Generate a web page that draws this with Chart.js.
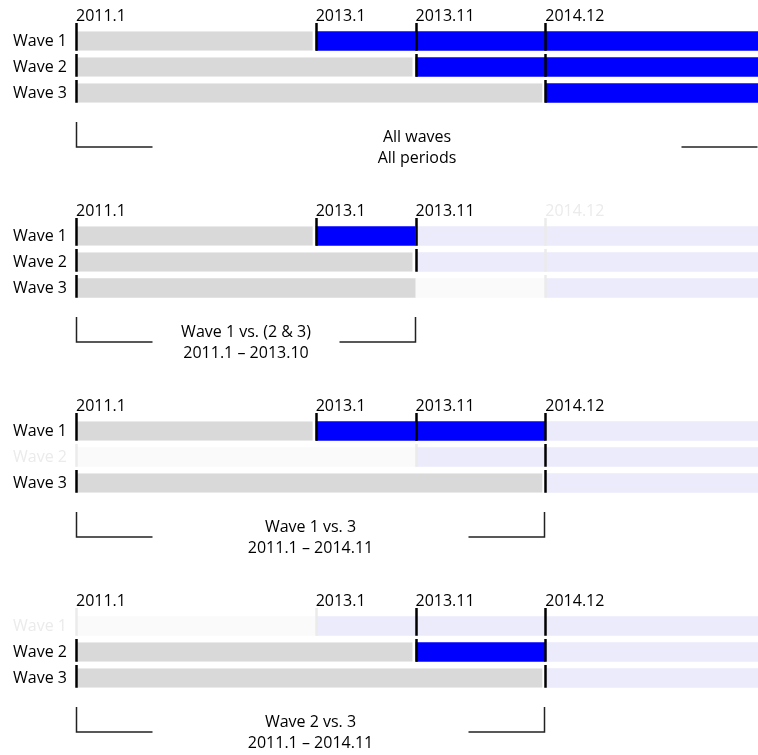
<!DOCTYPE html>
<html>
<head>
<meta charset="utf-8">
<script src="https://cdn.jsdelivr.net/npm/chart.js@4"></script>
<style>
  body { margin: 0; background: #fff; overflow: hidden; }
  .panel { width: 758px; height: 195px; }
</style>
</head>
<body>
<div class="panel"><canvas id="p0" width="758" height="195"></canvas></div>
<div class="panel"><canvas id="p1" width="758" height="195"></canvas></div>
<div class="panel"><canvas id="p2" width="758" height="195"></canvas></div>
<div class="panel"><canvas id="p3" width="758" height="195"></canvas></div>
<script>
// data (months counted from 2011.1)

let waveNames = ['Wave 1', 'Wave 2', 'Wave 3'];
let waveStart = [24, 34, 47];
let axisEnd = 68.3;

let tickMonths = [0, 24, 34, 47];
let tickLabels = ['2011.1', '2013.1', '2013.11', '2014.12'];

let panelCaptions = [
  ['All waves', 'All periods'],
  ['Wave 1 vs. (2 & 3)', '2011.1 \u2013 2013.10'],
  ['Wave 1 vs. 3', '2011.1 \u2013 2014.11'],
  ['Wave 2 vs. 3', '2011.1 \u2013 2014.11']
];
let panelWindowEnd = [axisEnd, 34, 47, 47];
let panelWaves = [
  [true, true, true],
  [true, true, true],
  [true, false, true],
  [false, true, true]
];

// colours

let gray = '#d9d9d9';
let fadedGray = '#fafafa';
let blue = '#0000ff';
let lavender = '#ebebfb';
let fadedInk = '#ebebeb';
let fontFamily = "'Open Sans', sans-serif";

let barPct = 0.75;

// does a marker line cross the row of wave i at month m?
function lineCovers(i, m) {
  return tickMonths.includes(m) && (waveStart[i] <= m || m === 0);
}

// split every wave into coloured pieces for one panel
function buildSegments(p) {
  let w = panelWindowEnd[p];
  let segs = { gray: [], faded: [], blue: [], lav: [] };
  for (let i = 0; i < waveNames.length; i++) {
    let s = waveStart[i];
    let on = panelWaves[p][i];
    let g = null, f = null, b = null, l = null;
    if (!on) {
      f = [0, s];
      l = [s, axisEnd];
    } else if (s > w) {
      g = [0, w];
      f = [w, s];
      l = [s, axisEnd];
    } else {
      g = [0, s];
      b = [s, w];
      if (w < axisEnd) l = [w, axisEnd];
    }
    segs.gray.push(g);
    segs.faded.push(f);
    segs.blue.push(b);
    segs.lav.push(l);
  }
  return segs;
}

// marker lines, brackets and captions
let panelDecor = {
  id: 'panelDecor',
  afterDatasetsDraw(chart) {
    let p = chart.options.plugins.panelDecor.panel;
    let w = panelWindowEnd[p];
    let x = chart.scales.x;
    let y = chart.scales.y;
    let area = chart.chartArea;
    let ctx = chart.ctx;
    let band = y.getPixelForValue(1) - y.getPixelForValue(0);
    let half = band * barPct / 2;

    ctx.save();
    ctx.lineWidth = 2.5;
    for (let t = 0; t < tickMonths.length; t++) {
      let m = tickMonths[t];
      let px = Math.round(x.getPixelForValue(m)) + 0.5;
      let startsActive = false;
      for (let i = 0; i < waveStart.length; i++) {
        if (waveStart[i] === m && panelWaves[p][i]) startsActive = true;
      }
      for (let i = 0; i < waveNames.length; i++) {
        if (!lineCovers(i, m)) continue;
        let c = y.getPixelForValue(i);
        let top = i === 0 ? area.top - 5 : c - band / 2;
        let bottom = c + half;
        let faded = m > w || (!panelWaves[p][i] && !startsActive);
        ctx.strokeStyle = faded ? fadedInk : '#000';
        ctx.beginPath();
        ctx.moveTo(px, top);
        ctx.lineTo(px, bottom);
        ctx.stroke();
      }
    }

    // brackets under the window
    let left = Math.round(x.getPixelForValue(0)) + 0.5;
    let right = Math.round(x.getPixelForValue(w)) - 0.5;
    let bTop = area.bottom + 16;
    let bBottom = area.bottom + 41;
    ctx.strokeStyle = '#222';
    ctx.lineWidth = 1.5;
    ctx.beginPath();
    ctx.moveTo(left, bTop);
    ctx.lineTo(left, bBottom);
    ctx.lineTo(left + 76, bBottom);
    ctx.stroke();
    ctx.beginPath();
    ctx.moveTo(right - 76, bBottom);
    ctx.lineTo(right, bBottom);
    if (right < area.right - 2) ctx.lineTo(right, bTop);
    ctx.stroke();

    // captions
    ctx.fillStyle = '#000';
    ctx.font = '16px ' + fontFamily;
    ctx.textAlign = 'center';
    ctx.textBaseline = 'middle';
    let mid = (left + right) / 2;
    ctx.fillText(panelCaptions[p][0], mid, area.bottom + 31);
    ctx.fillText(panelCaptions[p][1], mid, area.bottom + 52);
    ctx.restore();
  }
};

function makePanel(p) {
  let segs = buildSegments(p);
  let w = panelWindowEnd[p];
  let common = { grouped: false, barPercentage: barPct, categoryPercentage: 1, borderWidth: 0 };

  // small white gap on a gray bar only where a black marker follows it
  let grayGap = function (ctx) {
    let seg = segs.gray[ctx.dataIndex];
    let gap = seg && lineCovers(ctx.dataIndex, seg[1]) ? 3 : 0;
    return { top: 0, left: 0, bottom: 0, right: gap };
  };

  new Chart(document.getElementById('p' + p), {
    type: 'bar',
    data: {
      labels: waveNames,
      datasets: [
        Object.assign({}, common, { label: 'before', data: segs.gray, backgroundColor: gray,
          borderColor: '#fff', borderWidth: grayGap, borderSkipped: false }),
        Object.assign({ label: 'before (outside)', data: segs.faded, backgroundColor: fadedGray }, common),
        Object.assign({ label: 'in panel', data: segs.blue, backgroundColor: blue }, common),
        Object.assign({ label: 'in panel (outside)', data: segs.lav, backgroundColor: lavender }, common)
      ]
    },
    options: {
      indexAxis: 'y',
      responsive: false,
      animation: false,
      layout: { padding: { top: 0, left: 0, right: 0, bottom: 89 } },
      plugins: {
        legend: { display: false },
        tooltip: { enabled: false },
        panelDecor: { panel: p }
      },
      scales: {
        x: {
          type: 'linear',
          position: 'top',
          min: 0,
          max: axisEnd,
          grid: { display: false, drawTicks: false },
          border: { display: false },
          afterBuildTicks: function (scale) {
            scale.ticks = tickMonths.map(v => ({ value: v }));
          },
          afterFit: function (scale) {
            scale.height = 28;
          },
          ticks: {
            autoSkip: false,
            maxRotation: 0,
            minRotation: 0,
            align: 'start',
            padding: 2,
            font: { family: fontFamily, size: 16 },
            color: ctx => tickMonths[ctx.index] > w ? fadedInk : '#000',
            callback: value => tickLabels[tickMonths.indexOf(value)]
          }
        },
        y: {
          grid: { display: false, drawTicks: false },
          border: { display: false },
          afterFit: function (scale) {
            scale.width = 76;
          },
          ticks: {
            padding: 9,
            font: { family: fontFamily, size: 16 },
            color: ctx => panelWaves[p][ctx.index] ? '#000' : fadedInk
          }
        }
      }
    },
    plugins: [panelDecor]
  });
}

for (let p = 0; p < panelCaptions.length; p++) {
  makePanel(p);
}
</script>
</body>
</html>
